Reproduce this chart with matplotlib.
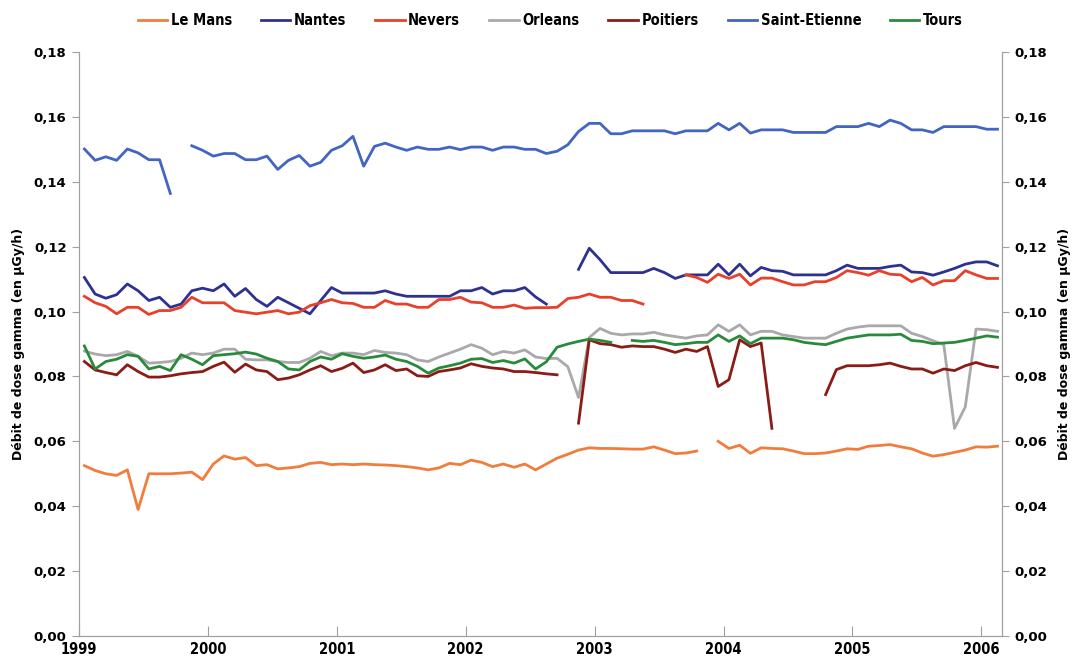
import numpy as np
import matplotlib
matplotlib.use("agg")
import matplotlib.pyplot as plt
from matplotlib.ticker import FuncFormatter

nan = np.nan

# monthly values, Jan 1999 .. Feb 2006 (12 per row)
le_mans = [
	0.0525, 0.0510, 0.0500, 0.0495, 0.0512, 0.0390, 0.0500, 0.0500, 0.0500, 0.0502, 0.0505, 0.0482,
	0.0530, 0.0555, 0.0545, 0.0550, 0.0525, 0.0528, 0.0515, 0.0518, 0.0522, 0.0532, 0.0535, 0.0528,
	0.0530, 0.0528, 0.0530, 0.0528, 0.0527, 0.0525, 0.0522, 0.0518, 0.0512, 0.0518, 0.0532, 0.0528,
	0.0542, 0.0535, 0.0522, 0.0530, 0.0520, 0.0530, 0.0512, 0.0530, 0.0548, 0.0560, 0.0573, 0.0580,
	0.0578, 0.0578, 0.0577, 0.0576, 0.0576, 0.0583, 0.0573, 0.0562, 0.0564, 0.0570, nan, 0.0600,
	0.0578, 0.0588, 0.0563, 0.0580, 0.0578, 0.0577, 0.0570, 0.0562, 0.0562, 0.0564, 0.0570, 0.0577,
	0.0575, 0.0585, 0.0587, 0.0590, 0.0583, 0.0577, 0.0564, 0.0554, 0.0559, 0.0566, 0.0573, 0.0583,
	0.0582, 0.0585]

nantes = [
	0.1105, 0.1054, 0.1041, 0.1052, 0.1085, 0.1064, 0.1034, 0.1044, 0.1013, 0.1023, 0.1064, 0.1072,
	0.1064, 0.1085, 0.1047, 0.1071, 0.1037, 0.1016, 0.1044, 0.1027, 0.1010, 0.0993, 0.1034, 0.1074,
	0.1057, 0.1057, 0.1057, 0.1057, 0.1064, 0.1054, 0.1047, 0.1047, 0.1047, 0.1047, 0.1047, 0.1064,
	0.1064, 0.1074, 0.1054, 0.1064, 0.1064, 0.1074, 0.1045, 0.1023, nan, nan, 0.1130, 0.1195,
	0.1160, 0.1120, 0.1120, 0.1120, 0.1120, 0.1133, 0.1120, 0.1102, 0.1113, 0.1113, 0.1113, 0.1146,
	0.1113, 0.1146, 0.1110, 0.1136, 0.1126, 0.1124, 0.1113, 0.1113, 0.1113, 0.1113, 0.1126, 0.1143,
	0.1133, 0.1133, 0.1133, 0.1139, 0.1143, 0.1122, 0.1120, 0.1112, 0.1122, 0.1133, 0.1146, 0.1153,
	0.1153, 0.1141]

nevers = [
	0.1047, 0.1027, 0.1016, 0.0993, 0.1013, 0.1013, 0.0991, 0.1003, 0.1003, 0.1013, 0.1044, 0.1027,
	0.1027, 0.1027, 0.1003, 0.0998, 0.0993, 0.0998, 0.1003, 0.0993, 0.0998, 0.1018, 0.1027, 0.1037,
	0.1027, 0.1025, 0.1013, 0.1013, 0.1034, 0.1023, 0.1023, 0.1013, 0.1013, 0.1037, 0.1037, 0.1044,
	0.1029, 0.1027, 0.1013, 0.1013, 0.1020, 0.1010, 0.1012, 0.1012, 0.1013, 0.1040, 0.1044, 0.1054,
	0.1044, 0.1044, 0.1034, 0.1034, 0.1023, nan, nan, nan, 0.1113, 0.1105, 0.1090, 0.1115,
	0.1102, 0.1115, 0.1082, 0.1103, 0.1103, 0.1092, 0.1082, 0.1082, 0.1092, 0.1092, 0.1105, 0.1126,
	0.1120, 0.1112, 0.1126, 0.1115, 0.1113, 0.1092, 0.1105, 0.1082, 0.1095, 0.1095, 0.1126, 0.1113,
	0.1102, 0.1102]

orleans = [
	0.0878, 0.0869, 0.0864, 0.0867, 0.0877, 0.0862, 0.0841, 0.0843, 0.0846, 0.0856, 0.0872, 0.0867,
	0.0872, 0.0884, 0.0884, 0.0853, 0.0851, 0.0851, 0.0846, 0.0843, 0.0843, 0.0856, 0.0877, 0.0864,
	0.0872, 0.0872, 0.0867, 0.0880, 0.0874, 0.0872, 0.0867, 0.0851, 0.0846, 0.0860, 0.0872, 0.0884,
	0.0898, 0.0887, 0.0867, 0.0877, 0.0872, 0.0882, 0.0860, 0.0855, 0.0856, 0.0830, 0.0735, 0.0920,
	0.0948, 0.0933, 0.0928, 0.0931, 0.0931, 0.0936, 0.0928, 0.0923, 0.0918, 0.0925, 0.0928, 0.0959,
	0.0939, 0.0959, 0.0928, 0.0939, 0.0939, 0.0928, 0.0923, 0.0918, 0.0918, 0.0918, 0.0933, 0.0946,
	0.0952, 0.0956, 0.0956, 0.0956, 0.0956, 0.0933, 0.0923, 0.0910, 0.0898, 0.0640, 0.0706, 0.0946,
	0.0944, 0.0939]

poitiers = [
	0.0846, 0.0820, 0.0812, 0.0805, 0.0836, 0.0815, 0.0798, 0.0798, 0.0802, 0.0808, 0.0812, 0.0815,
	0.0831, 0.0844, 0.0813, 0.0838, 0.0820, 0.0815, 0.0790, 0.0795, 0.0805, 0.0820, 0.0833, 0.0815,
	0.0825, 0.0841, 0.0812, 0.0820, 0.0836, 0.0818, 0.0823, 0.0802, 0.0800, 0.0815, 0.0820, 0.0826,
	0.0839, 0.0831, 0.0826, 0.0823, 0.0815, 0.0815, 0.0812, 0.0808, 0.0805, nan, 0.0656, 0.0913,
	0.0901, 0.0898, 0.0890, 0.0894, 0.0892, 0.0892, 0.0884, 0.0874, 0.0884, 0.0877, 0.0892, 0.0769,
	0.0790, 0.0913, 0.0892, 0.0903, 0.0640, nan, nan, nan, nan, 0.0744, 0.0821, 0.0833,
	0.0833, 0.0833, 0.0836, 0.0841, 0.0831, 0.0823, 0.0823, 0.0810, 0.0823, 0.0818, 0.0833, 0.0843,
	0.0833, 0.0828]

saint_etienne = [
	0.1501, 0.1466, 0.1477, 0.1466, 0.1501, 0.1489, 0.1468, 0.1468, 0.1364, nan, 0.1511, 0.1497,
	0.1479, 0.1487, 0.1487, 0.1468, 0.1468, 0.1479, 0.1438, 0.1466, 0.1481, 0.1448, 0.1460, 0.1497,
	0.1511, 0.1540, 0.1448, 0.1509, 0.1519, 0.1507, 0.1497, 0.1507, 0.1500, 0.1500, 0.1507, 0.1499,
	0.1507, 0.1507, 0.1497, 0.1507, 0.1507, 0.1500, 0.1500, 0.1487, 0.1494, 0.1514, 0.1555, 0.1580,
	0.1580, 0.1548, 0.1548, 0.1557, 0.1557, 0.1557, 0.1557, 0.1548, 0.1557, 0.1557, 0.1557, 0.1580,
	0.1560, 0.1580, 0.1550, 0.1560, 0.1560, 0.1560, 0.1552, 0.1552, 0.1552, 0.1552, 0.1570, 0.1570,
	0.1570, 0.1580, 0.1570, 0.1590, 0.1580, 0.1560, 0.1560, 0.1552, 0.1570, 0.1570, 0.1570, 0.1570,
	0.1562, 0.1562]

tours = [
	0.0894, 0.0823, 0.0846, 0.0853, 0.0867, 0.0862, 0.0823, 0.0831, 0.0818, 0.0867, 0.0853, 0.0836,
	0.0864, 0.0867, 0.0870, 0.0875, 0.0869, 0.0856, 0.0846, 0.0823, 0.0820, 0.0846, 0.0860, 0.0853,
	0.0870, 0.0862, 0.0856, 0.0860, 0.0866, 0.0853, 0.0846, 0.0831, 0.0810, 0.0826, 0.0833, 0.0841,
	0.0853, 0.0855, 0.0843, 0.0849, 0.0841, 0.0854, 0.0823, 0.0845, 0.0890, 0.0900, 0.0908, 0.0915,
	0.0911, 0.0905, nan, 0.0911, 0.0908, 0.0911, 0.0905, 0.0898, 0.0901, 0.0905, 0.0905, 0.0928,
	0.0908, 0.0925, 0.0901, 0.0918, 0.0918, 0.0918, 0.0913, 0.0905, 0.0901, 0.0898, 0.0908, 0.0918,
	0.0923, 0.0928, 0.0928, 0.0928, 0.0930, 0.0911, 0.0908, 0.0901, 0.0903, 0.0905, 0.0911, 0.0918,
	0.0925, 0.0921]

series = [
	("Le Mans", le_mans, "#f07d3c"),
	("Nantes", nantes, "#2e3190"),
	("Nevers", nevers, "#e8402a"),
	("Orleans", orleans, "#a9a9a9"),
	("Poitiers", poitiers, "#8a1c17"),
	("Saint-Etienne", saint_etienne, "#4264c2"),
	("Tours", tours, "#2a8a3c"),
]

years = np.arange(1999, 2007)
y_ticks = np.arange(0, 0.181, 0.02)
y_label = "Débit de dose gamma (en µGy/h)"

n = len(le_mans)
x = 1999 + (np.arange(n) + 0.5) / 12

comma = FuncFormatter(lambda v, p: ("%.2f" % v).replace(".", ","))

fig = plt.figure(figsize=(10.75, 6.64), dpi=100)
ax = fig.add_axes([0.0735, 0.0422, 0.8586, 0.8795])

for name, vals, col in series:
	ax.plot(x, vals, color=col, lw=2.0, label=name)

ax.set_xlim(1999, 2006.16)
ax.set_ylim(0, 0.18)

ax.set_xticks(years)
ax.set_xticklabels([str(y) for y in years], fontweight="bold", fontstretch="condensed", fontsize=10.5)
ax.set_yticks(y_ticks)
ax.yaxis.set_major_formatter(comma)

ax.tick_params(axis="x", direction="in", length=7, color="#a0a0a0", pad=4)
ax.tick_params(axis="y", direction="out", length=5, color="#a0a0a0", pad=4, labelsize=9.5)

ax.spines["top"].set_visible(False)
for s in ["left", "right", "bottom"]:
	ax.spines[s].set_color("#a0a0a0")

ax.set_ylabel(y_label, fontweight="bold", fontsize=9, labelpad=6)

ax2 = ax.twinx()
ax2.set_ylim(0, 0.18)
ax2.set_yticks(y_ticks)
ax2.yaxis.set_major_formatter(comma)
ax2.tick_params(axis="y", direction="out", length=5, color="#a0a0a0", pad=4, labelsize=9.5)
ax2.spines["top"].set_visible(False)
for s in ["left", "right", "bottom"]:
	ax2.spines[s].set_color("#a0a0a0")
ax2.set_ylabel(y_label, fontweight="bold", fontsize=9, labelpad=8, rotation=90)

for lab in ax.get_yticklabels() + ax2.get_yticklabels():
	lab.set_fontweight("bold")

fig.legend(loc="upper center", bbox_to_anchor=(0.512, 1.0), ncol=7, frameon=False,
	prop={"weight": "bold", "size": 10.5, "stretch": "condensed"},
	handlelength=2.0, handletextpad=0.25, columnspacing=2.0)

fig.savefig("out.png", dpi=100)
